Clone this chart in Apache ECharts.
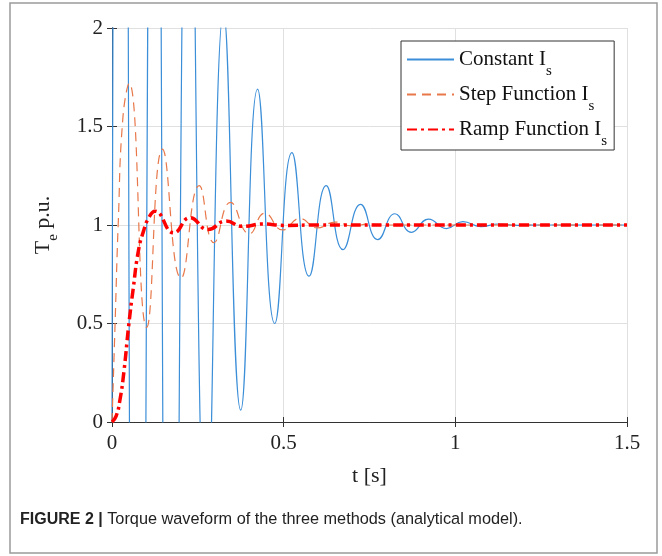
<!DOCTYPE html>
<html><head><meta charset="utf-8">
<script src="https://cdn.jsdelivr.net/npm/echarts@6/dist/echarts.min.js"></script>
<style>html,body{margin:0;padding:0;background:#fff}#c{width:662px;height:556px}</style>
</head><body><div id="c"></div>
<script>
// ---- data ----
const xTicks = [0, 0.5, 1, 1.5];
const yTicks = [0, 0.5, 1, 1.5, 2];
const seriesNames = ['Constant', 'Step Function', 'Ramp Function'];

// Constant I_s : peaks / troughs (early ones clipped beyond the axes, estimated)
const constT = [0, 0.025, 0.075, 0.125, 0.172, 0.225, 0.275, 0.325, 0.375, 0.424, 0.474, 0.524, 0.574, 0.624, 0.673, 0.724, 0.774, 0.824, 0.872, 0.922, 0.974, 1.022, 1.074, 1.125, 1.175, 1.25, 1.35, 1.5];
const constV = [0, 9.0, -5.8, 5.4, -4.2, 3.6, -0.7, 2.08, 0.06, 1.69, 0.50, 1.367, 0.74, 1.20, 0.875, 1.105, 0.926, 1.057, 0.963, 1.03, 0.982, 1.017, 0.992, 1.005, 0.998, 1.0, 1.0, 1.0];

// Step function I_s
const stepT = [0, 0.009, 0.018, 0.032, 0.05, 0.101, 0.147, 0.201, 0.254, 0.297, 0.345, 0.40, 0.445, 0.497, 0.547, 0.598, 0.65, 0.70, 0.75, 0.80, 0.9, 1.0, 1.2, 1.5];
const stepV = [0, 0.5, 1.0, 1.55, 1.72, 0.48, 1.385, 0.73, 1.20, 0.91, 1.115, 0.955, 1.06, 0.975, 1.033, 0.985, 1.015, 0.995, 1.005, 1.0, 1.0, 1.0, 1.0, 1.0];

// Ramp function I_s
const rampT = [0, 0.012, 0.023, 0.035, 0.048, 0.062, 0.077, 0.092, 0.108, 0.125, 0.18, 0.227, 0.28, 0.332, 0.38, 0.44, 0.5, 0.6, 0.8, 1.0, 1.5];
const rampV = [0, 0.03, 0.11, 0.26, 0.48, 0.68, 0.87, 0.97, 1.04, 1.07, 0.96, 1.037, 0.977, 1.02, 0.993, 1.005, 0.998, 1.0, 1.0, 1.0, 1.0];

const caption = 'FIGURE 2 |';
const captionText = ' Torque waveform of the three methods (analytical model).';

// ---- chart ----
const zip = (a, b) => a.map((t, i) => [t, b[i]]);
const serif = 'Liberation Serif';
const axisCol = '#333';

const chart = echarts.init(document.getElementById('c'), null, {renderer: 'canvas'});
const xMin = xTicks[0], xMax = xTicks[xTicks.length - 1], xInt = xTicks[1] - xTicks[0];
const yMin = yTicks[0], yMax = yTicks[yTicks.length - 1], yInt = yTicks[1] - yTicks[0];

const commonAxis = {
  type: 'value',
  axisLine: {show: true, lineStyle: {color: axisCol, width: 1}},
  axisTick: {show: true, inside: true, length: 5, lineStyle: {color: axisCol}},
};

chart.setOption({
  animation: false,
  backgroundColor: '#fff',
  grid: {left: 112, right: 35, top: 28, bottom: 134, containLabel: false},
  xAxis: [
    Object.assign({}, commonAxis, {
      min: xMin, max: xMax, interval: xInt, position: 'bottom',
      axisLabel: {fontFamily: serif, fontSize: 21, color: '#222', margin: 11},
      splitLine: {show: true, lineStyle: {color: '#e0e0e0', width: 1}},
      name: 't [s]', nameLocation: 'middle', nameGap: 43,
      nameTextStyle: {fontFamily: serif, fontSize: 22, color: '#222'}
    }),
    Object.assign({}, commonAxis, {
      min: xMin, max: xMax, interval: xInt, position: 'top',
      axisLabel: {show: false}, splitLine: {show: false}
    })
  ],
  yAxis: [
    Object.assign({}, commonAxis, {
      min: yMin, max: yMax, interval: yInt, position: 'left',
      axisLabel: {fontFamily: serif, fontSize: 21, color: '#222', margin: 9},
      splitLine: {show: true, lineStyle: {color: '#e0e0e0', width: 1}},
      name: '{t|T}{s|e}{t| p.u.}', nameLocation: 'middle', nameGap: 51, nameRotate: 90,
      nameTextStyle: {
        fontFamily: serif, fontSize: 22, color: '#222',
        rich: {
          t: {fontFamily: serif, fontSize: 22, color: '#222'},
          s: {fontFamily: serif, fontSize: 15, color: '#222', padding: [20, 0, 0, 0]}
        }
      }
    }),
    Object.assign({}, commonAxis, {
      min: yMin, max: yMax, interval: yInt, position: 'right',
      axisLabel: {show: false}, splitLine: {show: false}
    })
  ],
  legend: {
    orient: 'vertical', left: 401, top: 41,
    backgroundColor: '#fff', borderColor: '#333', borderWidth: 1,
    padding: [8, 7, 1, 5], itemGap: 5, itemWidth: 47, itemHeight: 14,
    itemStyle: {opacity: 0},
    data: seriesNames,
    formatter: (name) => '{n|' + name + ' I}{s|s}',
    textStyle: {
      fontFamily: serif, fontSize: 21, color: '#111',
      rich: {
        n: {fontFamily: serif, fontSize: 21, color: '#111'},
        s: {fontFamily: serif, fontSize: 15, color: '#111', padding: [24, 0, 0, 0]}
      }
    }
  },
  graphic: [
    {type: 'rect', shape: {x: 10, y: 3, width: 647, height: 550}, style: {fill: 'none', stroke: '#9a9a9a', lineWidth: 1.5}, silent: true},
    {type: 'text', left: 20, top: 512, style: {
      text: '{b|' + caption + '}{r|' + captionText + '}',
      rich: {
        b: {fontFamily: 'Liberation Sans', fontSize: 16, fontWeight: 'bold', fill: '#222'},
        r: {fontFamily: 'Liberation Sans', fontSize: 16.3, fill: '#222'}
      }
    }}
  ],
  series: [
    {
      name: seriesNames[0], type: 'line', data: zip(constT, constV), smooth: 0.5,
      symbol: 'none', clip: true, xAxisIndex: 0, yAxisIndex: 0,
      lineStyle: {color: '#3b8ed8', width: 1.2, type: 'solid'}, itemStyle: {color: '#3b8ed8'}
    },
    {
      name: seriesNames[1], type: 'line', data: zip(stepT, stepV), smooth: 0.5,
      symbol: 'none', clip: true, xAxisIndex: 0, yAxisIndex: 0,
      lineStyle: {color: '#e8784a', width: 1.2, type: [9, 6]}, itemStyle: {color: '#e8784a'}
    },
    {
      name: seriesNames[2], type: 'line', data: zip(rampT, rampV), smooth: 0.5,
      symbol: 'none', clip: true, xAxisIndex: 0, yAxisIndex: 0,
      lineStyle: {color: '#ff0000', width: 3.5, type: [10, 4, 3, 4]}, itemStyle: {color: '#ff0000'}
    }
  ]
});
</script>
</body></html>
